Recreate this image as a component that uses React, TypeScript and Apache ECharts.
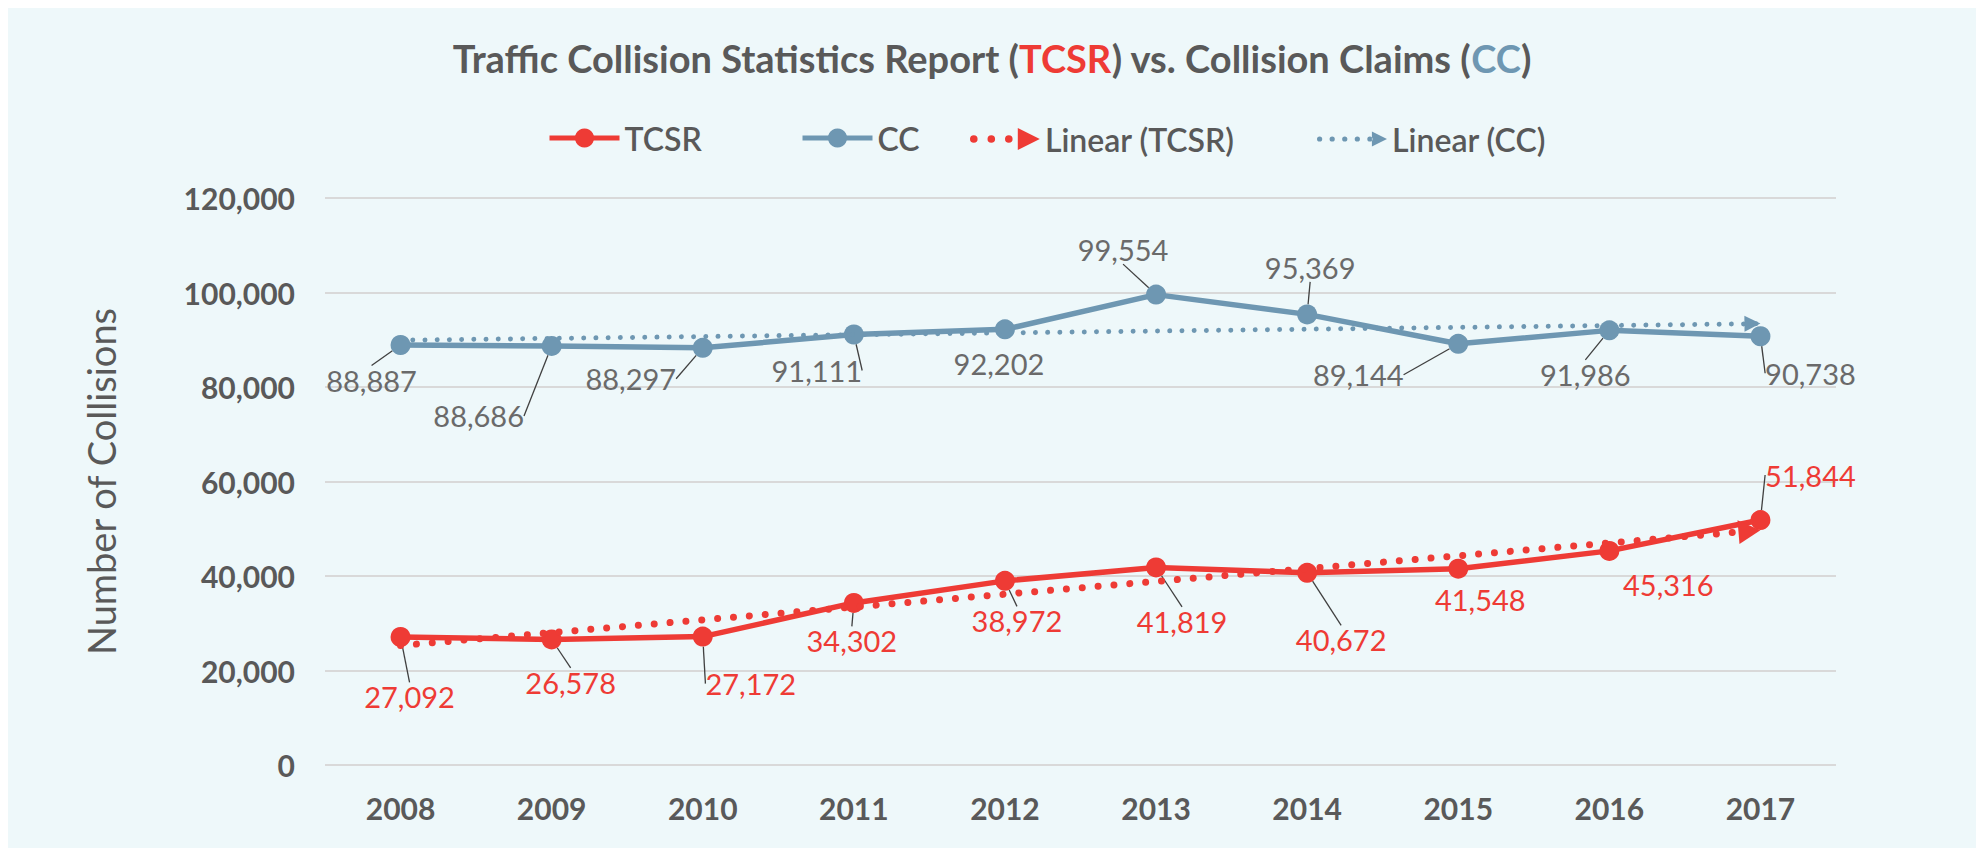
import React, { useEffect, useRef } from "react";
import * as echarts from "echarts";

// ---- data ----
const years = ["2008", "2009", "2010", "2011", "2012", "2013", "2014", "2015", "2016", "2017"];
const tcsrValues = [27092, 26578, 27172, 34302, 38972, 41819, 40672, 41548, 45316, 51844];
const ccValues = [88887, 88686, 88297, 91111, 92202, 99554, 95369, 89144, 91986, 90738];
// linear trend lines: values read at first and last year
const tcsrTrendEnds = [25300, 49700];
const ccTrendEnds = [89900, 93400];
const yMin = 0;
const yMax = 120000;
const yStep = 20000;

// ---- label placement (pixel offsets from the point to the label centre) ----
const ccLabelOffsets = [[-29, 35], [-73, 70], [-72, 31], [-37, 36], [-6, 34], [-33, -45], [3, -47], [-100, 31], [-24, 44], [50, 37]];
const tcsrLabelOffsets = [[9, 60], [19, 43], [48, 47], [-2, 38], [12, 40], [26, 54], [34, 67], [22, 31], [59, 34], [50, -45]];
const ccLeader = [true, true, true, true, false, true, true, true, true, true];
const tcsrLeader = [true, true, true, true, true, true, true, false, false, true];

const RED = "#EE3B35";
const BLUE = "#6E97B2";
const TEXT = "#595959";
const FONT = "Lato, 'Noto Sans', sans-serif";

const fmt = (v: number) => v.toLocaleString("en-US");

const circle = (cx: number, cy: number, r: number) =>
  `M${cx - r} ${cy}a${r} ${r} 0 1 0 ${2 * r} 0a${r} ${r} 0 1 0 ${-2 * r} 0Z`;

const redTrendIcon =
  "path://" + circle(4, 11, 3.8) + circle(21.5, 11, 3.8) + circle(39, 11, 3.8) + "M48 0L70 11L48 22Z";
const blueTrendIcon =
  "path://" + circle(3, 11, 2.6) + circle(15.5, 11, 2.6) + circle(28, 11, 2.6) + circle(40.5, 11, 2.6) + circle(53, 11, 2.6) + "M55 3.5L70 11L55 18.5Z";

function trendData(ends: number[], arrow: any) {
  const arr: any[] = years.map(() => null);
  arr[0] = ends[0];
  arr[years.length - 1] = { value: ends[1], ...arrow };
  return arr;
}

function labeled(values: number[], leader: boolean[]) {
  return values.map((v, i) => ({ value: v, labelLine: { show: leader[i] } }));
}

function makeLayout(offsets: number[][]) {
  return (p: any) => {
    const o = offsets[p.dataIndex];
    const cx = p.rect.x + p.rect.width / 2;
    const cy = p.rect.y + p.rect.height / 2;
    return { x: cx + o[0], y: cy + o[1], align: "center", verticalAlign: "middle" };
  };
}

const legendText = { fontSize: 32, color: TEXT, fontFamily: FONT, fontWeight: 600 };

export default function App() {
  const ref = useRef<HTMLDivElement>(null);
  useEffect(() => {
    if (!ref.current) return;
    const chart = echarts.init(ref.current, null, { renderer: "svg" });
    const option: any = {
      animation: false,
      backgroundColor: "#EEF8FA",
      textStyle: { fontFamily: FONT },
      title: {
        left: "center",
        top: 31,
        padding: [0, 0, 0, 12],
        text: "{a|Traffic Collision Statistics Report (}{r|TCSR}{a|) vs. Collision Claims (}{b|CC}{a|)}",
        textStyle: {
          rich: {
            a: { fontSize: 38, fontWeight: "bold", color: TEXT, fontFamily: FONT },
            r: { fontSize: 38, fontWeight: "bold", color: RED, fontFamily: FONT },
            b: { fontSize: 38, fontWeight: "bold", color: BLUE, fontFamily: FONT },
          },
        },
      },
      legend: [
        {
          left: 539, top: 114, padding: 0, selectedMode: false,
          itemWidth: 70, itemHeight: 24, lineStyle: { width: 5 },
          data: ["TCSR"], textStyle: legendText,
        },
        {
          left: 792, top: 114, padding: 0, selectedMode: false,
          itemWidth: 70, itemHeight: 24, lineStyle: { width: 5 },
          data: ["CC"], textStyle: legendText,
        },
        {
          left: 962, top: 115, padding: 0, selectedMode: false,
          itemWidth: 70, itemHeight: 22, itemStyle: { borderWidth: 0 },
          data: [{ name: "Linear (TCSR)", icon: redTrendIcon }], textStyle: legendText,
        },
        {
          left: 1309, top: 115, padding: 0, selectedMode: false,
          itemWidth: 70, itemHeight: 22, itemStyle: { borderWidth: 0 },
          data: [{ name: "Linear (CC)", icon: blueTrendIcon }], textStyle: legendText,
        },
      ],
      grid: { left: 317, right: 140, top: 190, bottom: 83, containLabel: false },
      xAxis: {
        type: "category",
        data: years,
        boundaryGap: true,
        axisLine: { show: false },
        axisTick: { show: false },
        axisLabel: { fontSize: 30, fontWeight: "bold", color: TEXT, fontFamily: FONT, margin: 28 },
      },
      yAxis: {
        type: "value",
        min: yMin,
        max: yMax,
        interval: yStep,
        name: "Number of Collisions",
        nameLocation: "middle",
        nameGap: 205,
        nameTextStyle: { fontSize: 38, color: TEXT, fontFamily: FONT },
        axisLine: { show: false },
        axisTick: { show: false },
        splitLine: { lineStyle: { color: "#D9D9D9", width: 2 } },
        axisLabel: {
          fontSize: 30, fontWeight: "bold", color: TEXT, fontFamily: FONT, margin: 30,
          formatter: (v: number) => fmt(v),
        },
      },
      series: [
        {
          name: "TCSR",
          type: "line",
          data: labeled(tcsrValues, tcsrLeader),
          color: RED,
          symbol: "circle",
          symbolSize: 20,
          lineStyle: { width: 5.5, color: RED },
          itemStyle: { color: RED, borderWidth: 0 },
          z: 3,
          label: {
            show: true, fontSize: 29, color: RED, fontFamily: FONT,
            formatter: (p: any) => fmt(p.value),
          },
          labelLine: { show: true, lineStyle: { color: "#404040", width: 1.3 } },
          labelLayout: makeLayout(tcsrLabelOffsets),
        },
        {
          name: "CC",
          type: "line",
          data: labeled(ccValues, ccLeader),
          color: BLUE,
          symbol: "circle",
          symbolSize: 20,
          lineStyle: { width: 5.5, color: BLUE },
          itemStyle: { color: BLUE, borderWidth: 0 },
          z: 3,
          label: {
            show: true, fontSize: 29, color: "#6A6A6A", fontFamily: FONT,
            formatter: (p: any) => fmt(p.value),
          },
          labelLine: { show: true, lineStyle: { color: "#404040", width: 1.3 } },
          labelLayout: makeLayout(ccLabelOffsets),
        },
        {
          name: "Linear (TCSR)",
          type: "line",
          color: RED,
          connectNulls: true,
          symbol: "none",
          z: 4,
          itemStyle: { color: RED, borderWidth: 0 },
          lineStyle: { width: 7, color: RED, type: [0.01, 15.9], cap: "round" },
          data: trendData(tcsrTrendEnds, {
            symbol: "triangle", symbolSize: [24, 22], symbolRotate: -85.2, symbolOffset: [-11, 1],
          }),
        },
        {
          name: "Linear (CC)",
          type: "line",
          color: BLUE,
          connectNulls: true,
          symbol: "none",
          z: 4,
          itemStyle: { color: BLUE, borderWidth: 0 },
          lineStyle: { width: 5, color: BLUE, type: [0.01, 12.2], cap: "round" },
          data: trendData(ccTrendEnds, {
            symbol: "triangle", symbolSize: [16, 16], symbolRotate: -89.3, symbolOffset: [-8, 0],
          }),
        },
      ],
    };
    chart.setOption(option);
    return () => chart.dispose();
  }, []);
  return <div ref={ref} style={{ width: 1968, height: 840 }} />;
}
